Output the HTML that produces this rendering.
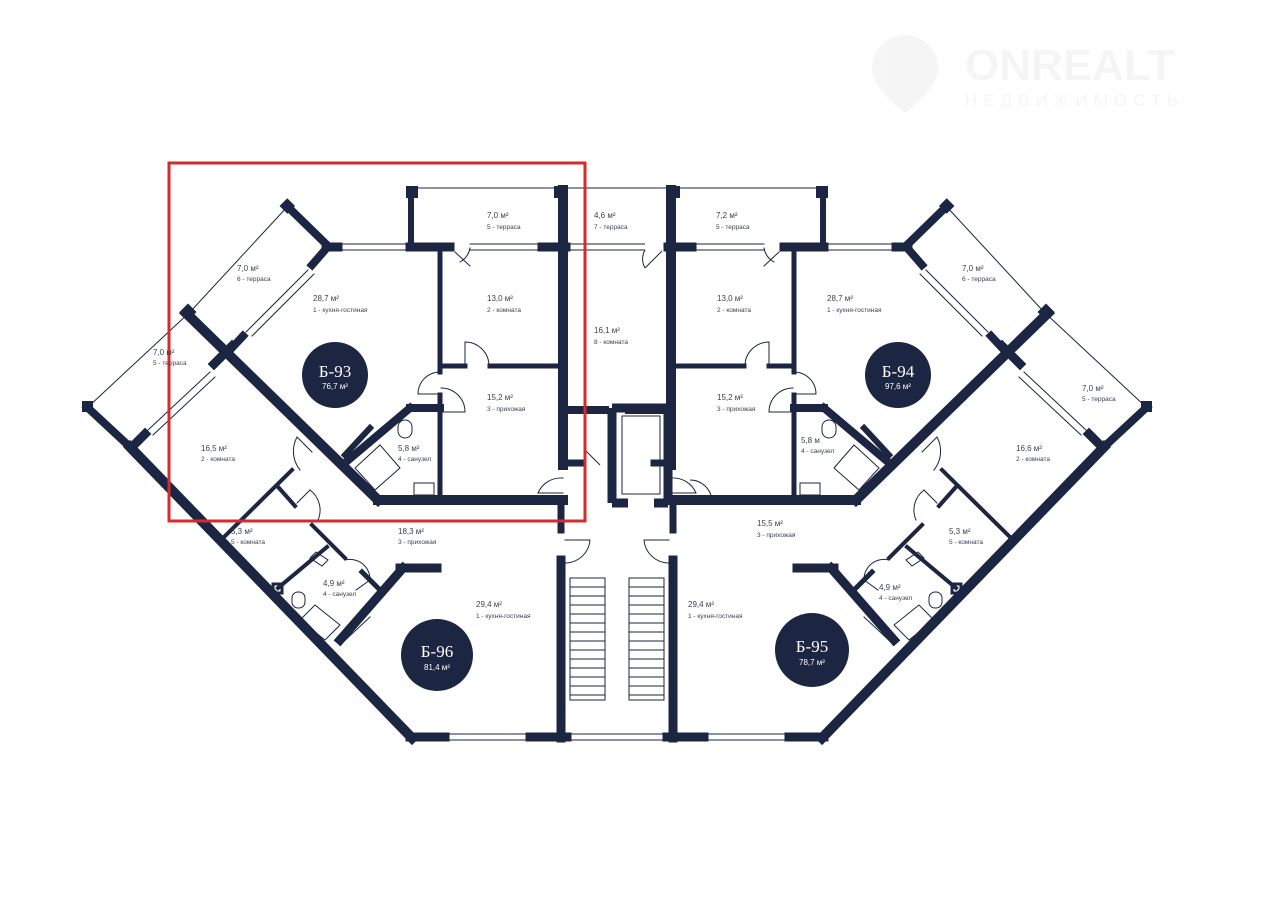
<!DOCTYPE html>
<html><head><meta charset="utf-8"><style>
html,body{margin:0;padding:0;background:#fff;}
svg{display:block;}
text{font-family:"Liberation Sans",sans-serif;fill:#3a3f55;}
.a{font-size:8px;}
.n{font-size:6.5px;}
</style></head><body>
<svg width="1263" height="910" viewBox="0 0 1263 910" xmlns="http://www.w3.org/2000/svg">
<rect width="1263" height="910" fill="#fff"/>
<g opacity="0.035" fill="#000">
<path d="M905 35 a33 33 0 0 1 33 33 c0 22 -33 45 -33 45 c0 0 -33 -23 -33 -45 a33 33 0 0 1 33 -33z"/>
<text x="965" y="80" style="font-size:44px;font-weight:bold;fill:#000;font-family:'Liberation Sans',sans-serif">ONREALT</text>
<text x="965" y="106" style="font-size:17px;letter-spacing:6px;fill:#000;font-family:'Liberation Sans',sans-serif">НЕДВИЖИМОСТЬ</text>
</g>
<defs>
<g id="L" stroke="#1c2541" fill="none" stroke-linecap="square">
  <line x1="288" y1="206" x2="190" y2="312" stroke-width="1"/>
  <line x1="287" y1="206" x2="328" y2="246" stroke-width="8"/>
  <rect x="282" y="201" width="11" height="11" fill="#1c2541" stroke="none" transform="rotate(45 288 206)"/>
  <line x1="325" y1="250" x2="312" y2="265" stroke-width="8"/>
  <line x1="308" y1="270" x2="246" y2="332" stroke-width="1"/>
  <line x1="314" y1="274" x2="252" y2="336" stroke-width="1"/>
  <line x1="243" y1="336" x2="229" y2="351" stroke-width="8"/>
  <line x1="326" y1="247" x2="338" y2="247" stroke-width="9"/>
  <line x1="340" y1="244" x2="408" y2="244" stroke-width="1"/>
  <line x1="340" y1="250" x2="408" y2="250" stroke-width="1"/>
  <line x1="410" y1="247" x2="450" y2="247" stroke-width="9"/>
  <line x1="470" y1="244" x2="540" y2="244" stroke-width="1"/>
  <line x1="470" y1="250" x2="540" y2="250" stroke-width="1"/>
  <line x1="542" y1="247" x2="566" y2="247" stroke-width="9"/>
  <path d="M455 252 L470 266 M470 248 A20 20 0 0 1 460 262" stroke-width="1"/>
  <line x1="411" y1="190" x2="411" y2="247" stroke-width="6"/>
  <line x1="411" y1="188" x2="566" y2="188" stroke-width="1"/>
  <rect x="406" y="186" width="12" height="12" fill="#1c2541" stroke="none"/>
  <rect x="554" y="186" width="12" height="12" fill="#1c2541" stroke="none"/>
  <line x1="563" y1="190" x2="563" y2="465" stroke-width="10"/>
  <line x1="563" y1="410" x2="605" y2="410" stroke-width="8"/>
  <line x1="563" y1="463" x2="580" y2="463" stroke-width="7"/>
  <line x1="186" y1="313" x2="378" y2="500" stroke-width="10"/>
  <line x1="378" y1="500" x2="563" y2="500" stroke-width="10"/>
  <line x1="561" y1="500" x2="561" y2="530" stroke-width="7"/>
  <line x1="88" y1="407" x2="190" y2="312" stroke-width="1"/>
  <rect x="182" y="306" width="12" height="12" fill="#1c2541" stroke="none" transform="rotate(45 188 312)"/>
  <line x1="87" y1="407" x2="130" y2="447" stroke-width="8"/>
  <rect x="82" y="401" width="11" height="11" fill="#1c2541" stroke="none"/>
  <line x1="232" y1="346" x2="214" y2="364" stroke-width="9"/>
  <line x1="210" y1="372" x2="148" y2="430" stroke-width="1"/>
  <line x1="215" y1="377" x2="153" y2="435" stroke-width="1"/>
  <line x1="145" y1="434" x2="133" y2="446" stroke-width="9"/>
  <line x1="130" y1="447" x2="412" y2="738" stroke-width="10"/>
  <line x1="440" y1="252" x2="440" y2="372" stroke-width="5"/>
  <line x1="440" y1="395" x2="440" y2="498" stroke-width="5"/>
  <line x1="440" y1="366" x2="465" y2="366" stroke-width="5"/>
  <line x1="490" y1="366" x2="563" y2="366" stroke-width="5"/>
  <path d="M465 366 L465 342 A24 24 0 0 1 489 366" stroke-width="1"/>
  <path d="M440 372 A22 22 0 0 0 418 394 L440 394" stroke-width="1"/>
  <path d="M440 412 L465 412 A24 24 0 0 0 441 388" stroke-width="1"/>
  <path d="M563 478 A25 25 0 0 0 538 493 L563 493" stroke-width="1"/>
  <line x1="410" y1="408" x2="440" y2="408" stroke-width="8"/>
  <line x1="410" y1="408" x2="346" y2="462" stroke-width="8"/>
  <line x1="370" y1="428" x2="345" y2="455" stroke-width="6"/>
  <path d="M380 445 L400 468 L375 490 L355 468 Z" stroke-width="1"/>
  <rect x="398" y="420" width="14" height="18" rx="7" stroke-width="1"/>
  <rect x="414" y="483" width="20" height="12" stroke-width="1"/>
  <!-- 16.5 / 5.3 walls -->
  <line x1="292" y1="470" x2="224" y2="537" stroke-width="4"/>
  <line x1="279" y1="488" x2="295" y2="506" stroke-width="4"/>
  <path d="M297 437 L312 452 M297 437 A30 30 0 0 0 300 470" stroke-width="1"/>
  <path d="M297 503 L310 490 M310 490 A25 25 0 0 1 318 520" stroke-width="1"/>
  <line x1="312" y1="525" x2="345" y2="558" stroke-width="4"/>
  <line x1="327" y1="547" x2="278" y2="588" stroke-width="4"/>
  <rect x="273" y="584" width="9" height="9" stroke-width="3"/>
  <path d="M316 552 L328 560 L322 566 L310 558 Z" stroke-width="1"/>
  <!-- B-96 -->
  <line x1="400" y1="568" x2="437" y2="568" stroke-width="9"/>
  <line x1="403" y1="568" x2="340" y2="640" stroke-width="9"/>
  <line x1="362" y1="572" x2="380" y2="590" stroke-width="5"/>
  <path d="M345 560 A20 20 0 0 1 370 580 L356 590" stroke-width="1"/>
  <path d="M315 605 L340 625 L325 640 L300 620 Z" stroke-width="1"/>
  <rect x="292" y="592" width="13" height="16" rx="6" stroke-width="1"/>
  <line x1="335" y1="640" x2="365" y2="612" stroke-width="1"/>
  <line x1="340" y1="645" x2="370" y2="617" stroke-width="1"/>
  <line x1="561" y1="560" x2="561" y2="738" stroke-width="9"/>
  <path d="M565 540 L590 540 A25 25 0 0 1 566 563" stroke-width="1"/>
  <line x1="410" y1="737" x2="445" y2="737" stroke-width="9"/>
  <line x1="445" y1="734" x2="530" y2="734" stroke-width="1"/>
  <line x1="445" y1="740" x2="530" y2="740" stroke-width="1"/>
  <line x1="530" y1="737" x2="567" y2="737" stroke-width="9"/>
  <line x1="567" y1="734" x2="617" y2="734" stroke-width="1"/>
  <line x1="567" y1="740" x2="617" y2="740" stroke-width="1"/>
  <rect x="570" y="578" width="35" height="122" stroke-width="1"/>
  <path d="M570 587h35M570 596h35M570 605h35M570 614h35M570 623h35M570 632h35M570 641h35M570 650h35M570 659h35M570 668h35M570 677h35M570 686h35M570 695h35" stroke-width="1"/>
</g>
</defs>
<use href="#L"/>
<use href="#L" transform="translate(1234,0) scale(-1,1)"/>
<g stroke="#1c2541" fill="none">
  <line x1="566" y1="188" x2="668" y2="188" stroke-width="1"/>
  <line x1="567" y1="244" x2="645" y2="244" stroke-width="1"/>
  <line x1="567" y1="250" x2="645" y2="250" stroke-width="1"/>
  <path d="M645 268 L662 251 M645 250 A18 18 0 0 0 645 268" stroke-width="1"/>
  <path d="M612 408 L668 408 M612 408 L612 503 M668 408 L668 503 M612 503 L628 503 M654 503 L668 503" stroke-width="9"/>
  <rect x="622" y="416" width="38" height="78" stroke-width="1"/>
  <path d="M585 450 L600 465" stroke-width="1"/>
  <path d="M690 480 A22 22 0 0 1 712 502" stroke-width="1"/>
</g>
<rect x="169" y="163" width="416" height="358" fill="none" stroke="#d42b2b" stroke-width="3"/>
<g fill="#1c2541">
<circle cx="335" cy="375" r="33"/><circle cx="898" cy="375" r="33"/>
<circle cx="437" cy="655" r="36"/><circle cx="812" cy="650" r="37"/>
</g>
<g text-anchor="middle">
<text x="335" y="377" style="font-family:'Liberation Serif',serif;font-size:17px;fill:#fff">Б-93</text>
<text x="335" y="389" style="font-size:8px;fill:#fff">76,7 м²</text>
<text x="898" y="377" style="font-family:'Liberation Serif',serif;font-size:17px;fill:#fff">Б-94</text>
<text x="898" y="389" style="font-size:8px;fill:#fff">97,6 м²</text>
<text x="437" y="657" style="font-family:'Liberation Serif',serif;font-size:17px;fill:#fff">Б-96</text>
<text x="437" y="670" style="font-size:8px;fill:#fff">81,4 м²</text>
<text x="812" y="652" style="font-family:'Liberation Serif',serif;font-size:17px;fill:#fff">Б-95</text>
<text x="812" y="665" style="font-size:8px;fill:#fff">78,7 м²</text>
</g>
<g>
<text class="a" x="237" y="271">7,0 м²</text><text class="n" x="237" y="281">6 - терраса</text>
<text class="a" x="153" y="355">7,0 м²</text><text class="n" x="153" y="365">5 - терраса</text>
<text class="a" x="313" y="301">28,7 м²</text><text class="n" x="313" y="312">1 - кухня-гостиная</text>
<text class="a" x="487" y="301">13,0 м²</text><text class="n" x="487" y="312">2 - комната</text>
<text class="a" x="487" y="218">7,0 м²</text><text class="n" x="487" y="229">5 - терраса</text>
<text class="a" x="487" y="400">15,2 м²</text><text class="n" x="487" y="411">3 - прихожая</text>
<text class="a" x="398" y="451">5,8 м²</text><text class="n" x="398" y="461">4 - санузел</text>
<text class="a" x="201" y="451">16,5 м²</text><text class="n" x="201" y="461">2 - комната</text>
<text class="a" x="594" y="218">4,6 м²</text><text class="n" x="594" y="229">7 - терраса</text>
<text class="a" x="594" y="333">16,1 м²</text><text class="n" x="594" y="344">8 - комната</text>
<text class="a" x="716" y="218">7,2 м²</text><text class="n" x="716" y="229">5 - терраса</text>
<text class="a" x="717" y="301">13,0 м²</text><text class="n" x="717" y="312">2 - комната</text>
<text class="a" x="827" y="301">28,7 м²</text><text class="n" x="827" y="312">1 - кухня-гостиная</text>
<text class="a" x="962" y="271">7,0 м²</text><text class="n" x="962" y="281">6 - терраса</text>
<text class="a" x="1082" y="391">7,0 м²</text><text class="n" x="1082" y="401">5 - терраса</text>
<text class="a" x="717" y="400">15,2 м²</text><text class="n" x="717" y="411">3 - прихожая</text>
<text class="a" x="801" y="443">5,8 м</text><text class="n" x="801" y="453">4 - санузел</text>
<text class="a" x="1016" y="451">16,6 м²</text><text class="n" x="1016" y="461">2 - комната</text>
<text class="a" x="231" y="534">5,3 м²</text><text class="n" x="231" y="544">5 - комната</text>
<text class="a" x="398" y="534">18,3 м²</text><text class="n" x="398" y="544">3 - прихожая</text>
<text class="a" x="323" y="586">4,9 м²</text><text class="n" x="323" y="596">4 - санузел</text>
<text class="a" x="476" y="607">29,4 м²</text><text class="n" x="476" y="618">1 - кухня-гостиная</text>
<text class="a" x="757" y="526">15,5 м²</text><text class="n" x="757" y="537">3 - прихожая</text>
<text class="a" x="949" y="534">5,3 м²</text><text class="n" x="949" y="544">5 - комната</text>
<text class="a" x="879" y="590">4,9 м²</text><text class="n" x="879" y="600">4 - санузел</text>
<text class="a" x="688" y="607">29,4 м²</text><text class="n" x="688" y="618">1 - кухня-гостиная</text>
</g>
</svg>
</body></html>
